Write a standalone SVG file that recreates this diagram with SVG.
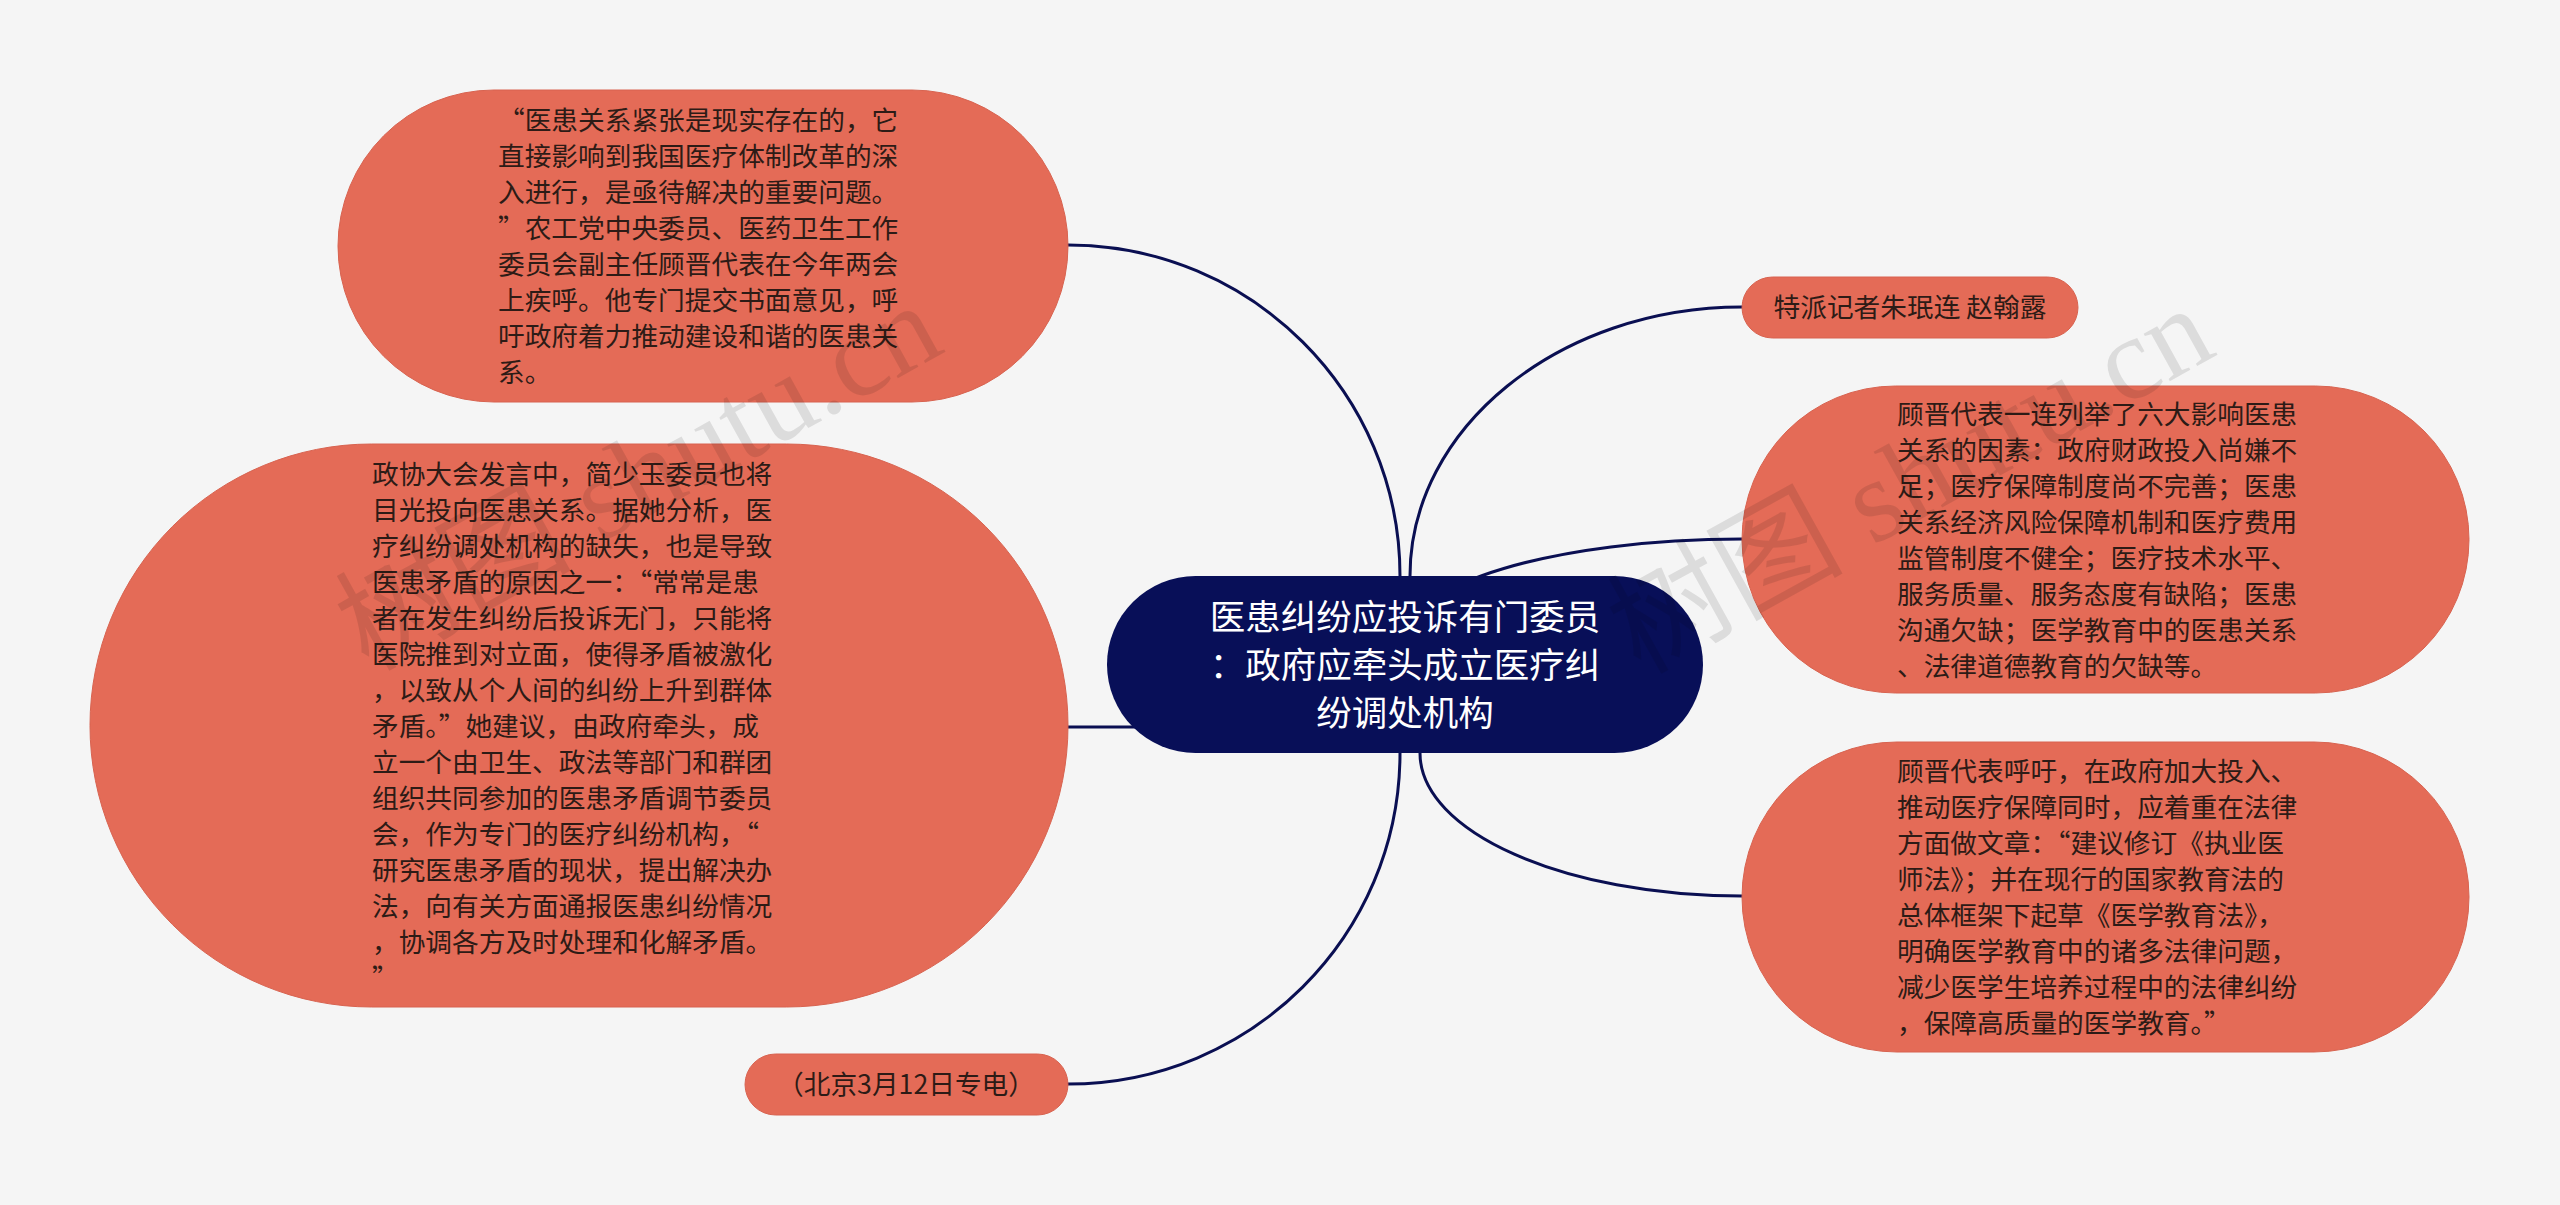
<svg xmlns="http://www.w3.org/2000/svg" width="2560" height="1205" viewBox="0 0 2560 1205">
<style>
.bg{fill:#f5f5f5}
.link{fill:none;stroke:#0a0f52;stroke-width:3;stroke-linecap:round}
.leaf{fill:#e46b57;stroke:#d86350;stroke-width:1}
.root{fill:#080f58}
.lt{font-family:"Noto Sans CJK SC","Noto Sans",sans-serif;font-size:26.7px;fill:#2d1b16}
.rt{font-family:"Noto Sans CJK SC","Noto Sans",sans-serif;font-size:35.5px;fill:#ffffff;text-anchor:middle}
.wm{font-family:"Liberation Serif","Noto Sans CJK SC",serif;font-size:118px;fill:#000000;fill-opacity:0.1}
</style>
<rect class="bg" x="0" y="0" width="2560" height="1205"/>
<g id="connectors">
<path class="link" d="M1400,640 L1400,576 C1400,393 1251,245 1068,245"/>
<path class="link" d="M1400,700 L1400,753 C1400,936 1251,1084 1068,1084"/>
<path class="link" d="M1068,727 L1200,727"/>
<path class="link" d="M1410,640 L1410,576 C1410,428 1559,307 1742,307"/>
<path class="link" d="M1405,640 C1405,584 1556,539 1742,539"/>
<path class="link" d="M1420,700 L1420,753 C1420,832 1564,896 1742,896"/>
</g>
<g id="node-root">
<rect class="root" x="1107" y="576" width="596" height="177" rx="88.5"/>
<text class="rt"><tspan x="1405" y="630">医患纠纷应投诉有门委员</tspan><tspan x="1405" y="678">：政府应牵头成立医疗纠</tspan><tspan x="1405" y="726">纷调处机构</tspan></text>
</g>
<g id="node-topleft">
<rect class="leaf" x="338" y="90" width="730" height="312" rx="156"/>
<text class="lt"><tspan x="498" y="130">“医患关系紧张是现实存在的，它</tspan><tspan x="498" y="166">直接影响到我国医疗体制改革的深</tspan><tspan x="498" y="202">入进行，是亟待解决的重要问题。</tspan><tspan x="498" y="238">”农工党中央委员、医药卫生工作</tspan><tspan x="498" y="274">委员会副主任顾晋代表在今年两会</tspan><tspan x="498" y="310">上疾呼。他专门提交书面意见，呼</tspan><tspan x="498" y="346">吁政府着力推动建设和谐的医患关</tspan><tspan x="498" y="382">系。</tspan></text>
</g>
<g id="node-left">
<rect class="leaf" x="90" y="444" width="978" height="563" rx="281.5"/>
<text class="lt"><tspan x="372" y="484">政协大会发言中，简少玉委员也将</tspan><tspan x="372" y="520">目光投向医患关系。据她分析，医</tspan><tspan x="372" y="556">疗纠纷调处机构的缺失，也是导致</tspan><tspan x="372" y="592">医患矛盾的原因之一：“常常是患</tspan><tspan x="372" y="628">者在发生纠纷后投诉无门，只能将</tspan><tspan x="372" y="664">医院推到对立面，使得矛盾被激化</tspan><tspan x="372" y="700">，以致从个人间的纠纷上升到群体</tspan><tspan x="372" y="736">矛盾。”她建议，由政府牵头，成</tspan><tspan x="372" y="772">立一个由卫生、政法等部门和群团</tspan><tspan x="372" y="808">组织共同参加的医患矛盾调节委员</tspan><tspan x="372" y="844">会，作为专门的医疗纠纷机构，“</tspan><tspan x="372" y="880">研究医患矛盾的现状，提出解决办</tspan><tspan x="372" y="916">法，向有关方面通报医患纠纷情况</tspan><tspan x="372" y="952">，协调各方及时处理和化解矛盾。</tspan><tspan x="372" y="988">”</tspan></text>
</g>
<g id="node-bottom">
<rect class="leaf" x="745" y="1054" width="323" height="61" rx="30.5"/>
<text class="lt" text-anchor="middle" x="906" y="1094">（北京3月12日专电）</text>
</g>
<g id="node-reporter">
<rect class="leaf" x="1742" y="277" width="336" height="61" rx="30.5"/>
<text class="lt" text-anchor="middle" x="1910" y="317">特派记者朱珉连 赵翰露</text>
</g>
<g id="node-factors">
<rect class="leaf" x="1742" y="386" width="727" height="307" rx="153.5"/>
<text class="lt"><tspan x="1897" y="424">顾晋代表一连列举了六大影响医患</tspan><tspan x="1897" y="460">关系的因素：政府财政投入尚嫌不</tspan><tspan x="1897" y="496">足；医疗保障制度尚不完善；医患</tspan><tspan x="1897" y="532">关系经济风险保障机制和医疗费用</tspan><tspan x="1897" y="568">监管制度不健全；医疗技术水平、</tspan><tspan x="1897" y="604">服务质量、服务态度有缺陷；医患</tspan><tspan x="1897" y="640">沟通欠缺；医学教育中的医患关系</tspan><tspan x="1897" y="676">、法律道德教育的欠缺等。</tspan></text>
</g>
<g id="node-law">
<rect class="leaf" x="1742" y="742" width="727" height="310" rx="155"/>
<text class="lt"><tspan x="1897" y="781">顾晋代表呼吁，在政府加大投入、</tspan><tspan x="1897" y="817">推动医疗保障同时，应着重在法律</tspan><tspan x="1897" y="853">方面做文章：“建议修订《执业医</tspan><tspan x="1897" y="889">师法》；并在现行的国家教育法的</tspan><tspan x="1897" y="925">总体框架下起草《医学教育法》，</tspan><tspan x="1897" y="961">明确医学教育中的诸多法律问题，</tspan><tspan x="1897" y="997">减少医学生培养过程中的法律纠纷</tspan><tspan x="1897" y="1033">，保障高质量的医学教育。”</tspan></text>
</g>
<g id="watermarks">
<text class="wm" transform="translate(368,672) rotate(-29)">树图 shutu.cn</text>
<text class="wm" transform="translate(1640,675) rotate(-29)">树图 shutu.cn</text>
</g>
</svg>
